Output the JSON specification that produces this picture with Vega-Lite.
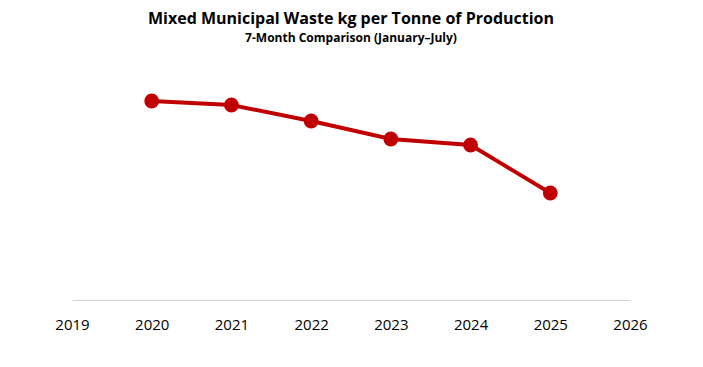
{
  "$schema": "https://vega.github.io/schema/vega-lite/v6.json",
  "width": 558,
  "height": 250,
  "autosize": {"type": "none"},
  "padding": {"left": 72, "top": 50, "right": 73, "bottom": 67},
  "background": "white",
  "title": {
    "text": "Mixed Municipal Waste kg per Tonne of Production",
    "subtitle": "7-Month Comparison (January–July)",
    "anchor": "middle",
    "font": "Open Sans",
    "fontSize": 16,
    "fontWeight": "bold",
    "color": "black",
    "subtitleFont": "Open Sans",
    "subtitleFontSize": 12,
    "subtitleFontWeight": "bold",
    "subtitleColor": "black",
    "subtitlePadding": 6,
    "offset": 6
  },
  "config": {"view": {"stroke": null}},
  "data": {
    "values": [
      {"year": 2020, "value": 19.9},
      {"year": 2021, "value": 19.5},
      {"year": 2022, "value": 17.9},
      {"year": 2023, "value": 16.1},
      {"year": 2024, "value": 15.5},
      {"year": 2025, "value": 10.7}
    ]
  },
  "encoding": {
    "x": {
      "field": "year",
      "type": "quantitative",
      "scale": {"domain": [2019, 2026], "nice": false, "zero": false},
      "axis": {
        "title": null,
        "values": [2019, 2020, 2021, 2022, 2023, 2024, 2025, 2026],
        "format": "d",
        "grid": false,
        "ticks": false,
        "domainColor": "#d0d0d0",
        "domainWidth": 1,
        "labelFont": "Open Sans",
        "labelFontSize": 15,
        "labelColor": "black",
        "labelPadding": 17,
        "labelFlush": false
      }
    },
    "y": {
      "field": "value",
      "type": "quantitative",
      "scale": {"domain": [0, 25], "nice": false},
      "axis": null
    }
  },
  "layer": [
    {"mark": {"type": "line", "color": "#C00000", "strokeWidth": 4}},
    {"mark": {"type": "point", "filled": true, "color": "#C00000", "size": 220, "opacity": 1}}
  ]
}
